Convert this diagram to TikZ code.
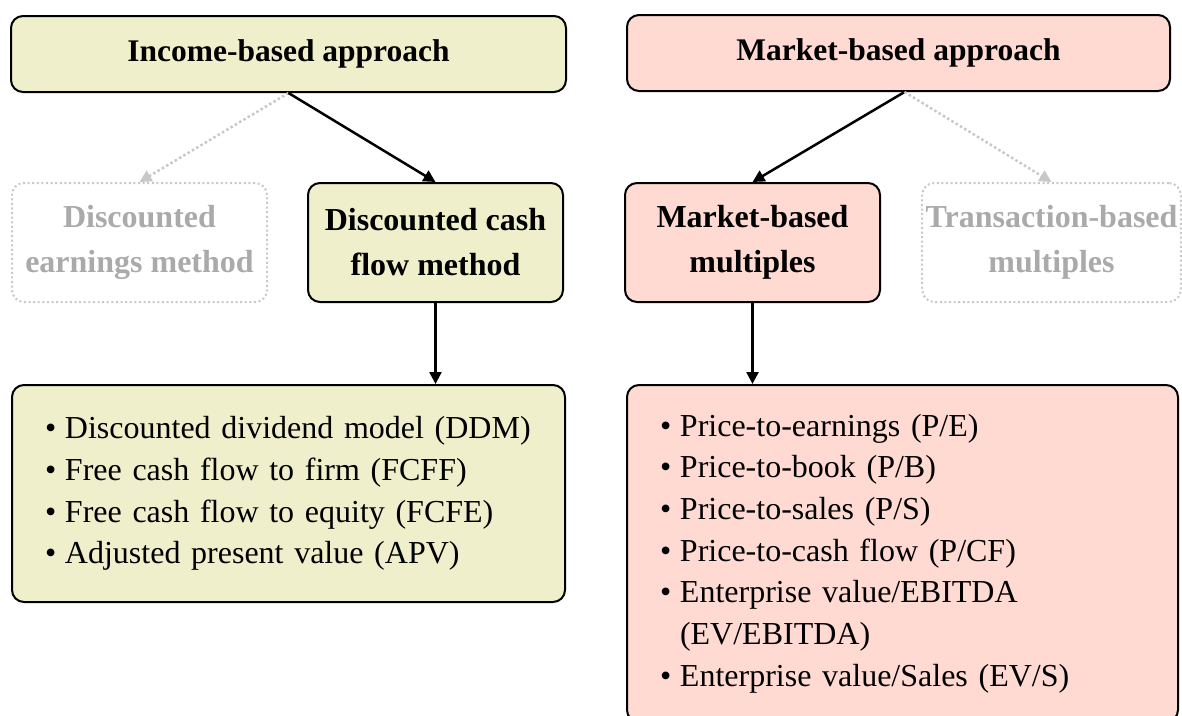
\documentclass[tikz,border=0pt]{standalone}
\usepackage{fontspec}
\setmainfont{Liberation Serif}
\usetikzlibrary{arrows.meta}
\definecolor{incfill}{RGB}{240,239,204}
\definecolor{mktfill}{RGB}{255,218,210}
\definecolor{greytext}{RGB}{170,170,170}
\definecolor{greyline}{RGB}{200,200,200}
\newcommand{\itm}[1]{\makebox[20pt][l]{\textbullet}#1}
\newcommand{\cnt}[1]{\hspace*{20pt}#1}

\begin{document}
\begin{tikzpicture}[x=1pt,y=1pt,yscale=-1,
    head/.style={draw,line width=2pt,rounded corners=12pt,minimum height=76pt,font=\fontsize{31.5}{36}\selectfont\bfseries},
    method/.style={draw,line width=2pt,rounded corners=12pt,minimum width=255pt,minimum height=119pt,align=center,font=\fontsize{32}{45}\selectfont\bfseries},
    faded/.style={method,draw=greyline,dash pattern={on 2pt off 2.6pt},text=greytext},
    listbox/.style={draw,line width=2pt,rounded corners=12pt,align=left,inner xsep=33pt,font=\fontsize{32}{41.7}\selectfont},
    solidarr/.style={-{Triangle[length=12pt,width=12pt]},line width=2.5pt},
    fadedarr/.style={-{Triangle[length=12pt,width=12pt]},line width=2.5pt,greyline,dash pattern={on 2.5pt off 2.5pt}}]
    \useasboundingbox (0,0) rectangle (1182,715);

    % approaches
    \node [head,fill=incfill,minimum width=555pt] (inc) at (288.5,54) {Income-based approach};
    \node [head,fill=mktfill,minimum width=543pt] (mkt) at (898.5,53) {Market-based approach};

    % methods
    \node [faded] (earn) at (139.5,242.5) {Discounted\\earnings method};
    \node [method,fill=incfill] (dcf) at (435.5,242.5) {Discounted cash\\flow method};
    \node [method,fill=mktfill] (mbm) at (752.5,242.5) {Market-based\\multiples};
    \node [faded] (trans) at (1051.5,242.5) {Transaction-based\\multiples};

    % lists
    \node [listbox,fill=incfill,text width=487pt,minimum height=217pt] (ddmlist) at (288.5,493.5)
        {\itm{Discounted dividend model (DDM)}\\
         \itm{Free cash flow to firm (FCFF)}\\
         \itm{Free cash flow to equity (FCFE)}\\
         \itm{Adjusted present value (APV)}};
    \node [listbox,fill=mktfill,text width=485pt,minimum height=337pt] (multlist) at (902.5,553.5)
        {\itm{Price-to-earnings (P/E)}\\
         \itm{Price-to-book (P/B)}\\
         \itm{Price-to-sales (P/S)}\\
         \itm{Price-to-cash flow (P/CF)}\\
         \itm{Enterprise value/EBITDA}\\
         \cnt{(EV/EBITDA)}\\
         \itm{Enterprise value/Sales (EV/S)}};

    % arrows
    \draw [fadedarr] (inc.south) -- (earn.north);
    \draw [solidarr] (inc.south) -- (dcf.north);
    \draw [solidarr] ([xshift=6pt]mkt.south) -- (mbm.north);
    \draw [fadedarr] ([xshift=6pt]mkt.south) -- (trans.north);
    \draw [solidarr] (dcf.south) -- (dcf.south |- ddmlist.north);
    \draw [solidarr] (mbm.south) -- (mbm.south |- multlist.north);

\end{tikzpicture}
\end{document}
